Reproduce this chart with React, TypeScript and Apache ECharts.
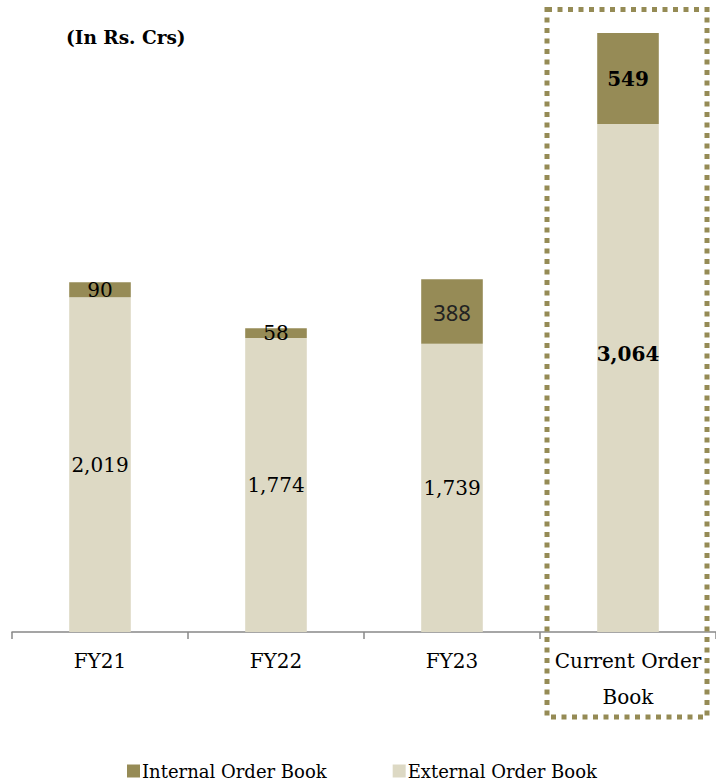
import React, { useEffect, useRef } from "react";
import * as echarts from "echarts";

const categories = ["FY21", "FY22", "FY23", "Current Order\nBook"];
const externalValues = [2019, 1774, 1739, 3064];
const internalValues = [90, 58, 388, 549];
const seriesNames = ["Internal Order Book", "External Order Book"];
const unitLabel = "(In Rs. Crs)";

const INTERNAL_COLOR = "#968B56";
const EXTERNAL_COLOR = "#DDD9C4";
const FONT = "DejaVu Serif";

const fmt = (v: number) => v.toLocaleString("en-US");

export default function App() {
  const ref = useRef<HTMLDivElement>(null);
  useEffect(() => {
    if (!ref.current) return;
    const chart = echarts.init(ref.current, undefined, { renderer: "svg" });
    const last = categories.length - 1;
    const option: any = {
      animation: false,
      backgroundColor: "#ffffff",
      textStyle: { fontFamily: FONT },
      grid: { left: 12, width: 709, top: 2, height: 630, containLabel: false },
      xAxis: {
        type: "category",
        data: categories,
        axisLine: { lineStyle: { color: "#888888", width: 1.5 } },
        axisTick: { show: true, length: 7, inside: false, alignWithLabel: false, interval: 0, lineStyle: { color: "#888888", width: 1.5 } },
        axisLabel: {
          color: "#000",
          fontFamily: FONT,
          fontSize: 20,
          lineHeight: 36,
          margin: 11,
          interval: 0,
        },
      },
      yAxis: { type: "value", min: 0, max: 3800, show: false },
      legend: {
        data: seriesNames,
        left: 127,
        top: 762,
        padding: 0,
        icon: "rect",
        itemWidth: 13,
        itemHeight: 13,
        itemGap: 66,
        textStyle: { fontFamily: FONT, fontSize: 18, color: "#000", padding: [0, 0, 0, -3] },
      },
      graphic: [
        {
          type: "text",
          left: 66,
          top: 28,
          style: { text: unitLabel, font: `bold 18.5px '${FONT}'`, fill: "#000" },
        },
        {
          type: "rect",
          shape: { x: 547, y: 9.5, width: 160, height: 707.5 },
          style: { fill: "none", stroke: "#958B55", lineWidth: 5, lineDash: [5, 5.5] },
          z: 10,
        },
      ],
      series: [
        {
          name: seriesNames[1],
          type: "bar",
          stack: "total",
          barWidth: "35%",
          itemStyle: { color: EXTERNAL_COLOR },
          label: {
            show: true,
            position: "inside",
            color: "#000",
            fontFamily: FONT,
            fontSize: 20,
            formatter: (p: any) => fmt(p.value),
          },
          data: externalValues.map((v, i) =>
            i === last
              ? { value: v, label: { fontWeight: "bold", offset: [0, -24] } }
              : { value: v }
          ),
        },
        {
          name: seriesNames[0],
          type: "bar",
          stack: "total",
          barWidth: "35%",
          itemStyle: { color: INTERNAL_COLOR },
          label: {
            show: true,
            position: "inside",
            color: "#000",
            fontFamily: FONT,
            fontSize: 20,
            formatter: (p: any) => fmt(p.value),
          },
          data: internalValues.map((v, i) => {
            if (i === last) return { value: v, label: { fontWeight: "bold" } };
            if (i === 2) return { value: v, label: { fontFamily: "Noto Sans", fontSize: 22, color: "#222" } };
            return { value: v };
          }),
        },
      ],
    };
    chart.setOption(option);
    return () => chart.dispose();
  }, []);
  return (
    <div
      ref={ref}
      style={{ position: "absolute", left: 0, top: 0, width: 716, height: 782 }}
    />
  );
}
